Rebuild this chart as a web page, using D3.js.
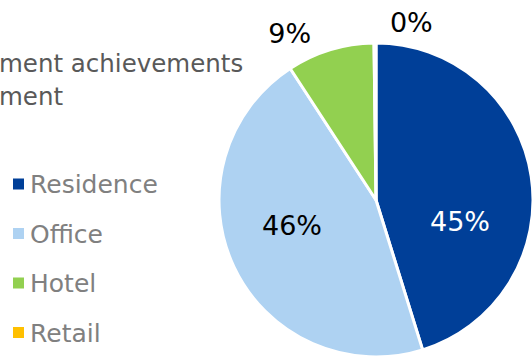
<!DOCTYPE html>
<html lang="en">
<head>
    <meta charset="UTF-8">
    <title>Development achievements by segment</title>
    <script src="https://d3js.org/d3.v7.min.js"></script>
    <style>
        body { margin: 0; background: #fff; }
        svg { display: block; font-family: "DejaVu Sans", Verdana, sans-serif; }
        .title { font-size: 24.5px; fill: #595959; }
        .legend-label { font-size: 25px; fill: #808080; }
        .pct { font-size: 27px; text-anchor: middle; dominant-baseline: central; }
    </style>
</head>
<body>
    <div id="chart"></div>

    <script>
        const categories = ["Residence", "Office", "Hotel", "Retail"];
        const shares = [45.2, 45.6, 9.0, 0.2];
        const colors = ["#003f98", "#aed2f2", "#92d050", "#ffc000"];
        const titleLines = ["Development achievements", "Development"];
        const titleVisible = ["ment achievements", "ment"];

        const width = 532, height = 357;
        const cx = 376, cy = 200, radius = 157;

        // label spots, in units of the radius from the pie centre
        const labelSpots = {
            Residence: [0.535, 0.135],
            Office: [-0.535, 0.16],
            Hotel: [-0.55, -1.06],
            Retail: [0.225, -1.13]
        };
        const labelFill = { Residence: "#fff", Office: "#000", Hotel: "#000", Retail: "#000" };

        const svg = d3.select("#chart").append("svg")
            .attr("width", width)
            .attr("height", height);

        // title, clipped at the left edge of the frame as in the source
        const title = svg.append("g");
        titleLines.forEach((line, i) => {
            const t = title.append("text")
                .attr("class", "title")
                .attr("y", 72 + i * 33)
                .text(line);
            const full = t.node().getComputedTextLength();
            const tmp = title.append("text").attr("class", "title").text(titleVisible[i]);
            const tail = tmp.node().getComputedTextLength();
            tmp.remove();
            t.attr("x", -(full - tail) - 1);
        });

        // pie
        const pie = d3.pie().sort(null).value(d => d);
        const arc = d3.arc().innerRadius(0).outerRadius(radius);
        const arcs = pie(shares);

        const g = svg.append("g").attr("transform", `translate(${cx},${cy})`);

        g.selectAll("path")
            .data(arcs)
            .enter().append("path")
            .attr("d", arc)
            .attr("fill", (d, i) => colors[i])
            .attr("stroke", "#fff")
            .attr("stroke-width", 3)
            .attr("stroke-linejoin", "round");

        const total = d3.sum(shares);
        g.selectAll("text.pct")
            .data(arcs)
            .enter().append("text")
            .attr("class", "pct")
            .attr("x", (d, i) => labelSpots[categories[i]][0] * radius)
            .attr("y", (d, i) => labelSpots[categories[i]][1] * radius)
            .attr("fill", (d, i) => labelFill[categories[i]])
            .text(d => Math.round(d.value / total * 100) + "%");

        // legend
        const legend = svg.append("g").attr("transform", "translate(13, 184)");
        const rows = legend.selectAll("g")
            .data(categories)
            .enter().append("g")
            .attr("transform", (d, i) => `translate(0, ${i * 49.5})`);

        rows.append("rect")
            .attr("x", 0)
            .attr("y", -5.5)
            .attr("width", 11)
            .attr("height", 11)
            .attr("fill", (d, i) => colors[i]);

        rows.append("text")
            .attr("class", "legend-label")
            .attr("x", 17)
            .attr("y", 9)
            .text(d => d);
    </script>
</body>
</html>
